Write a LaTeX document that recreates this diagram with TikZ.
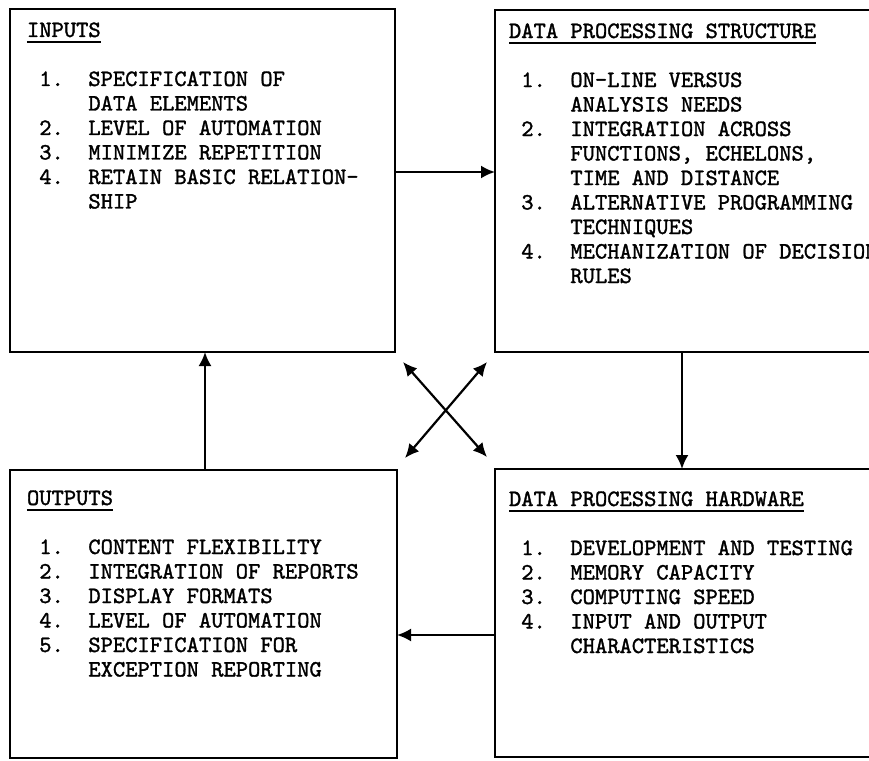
\documentclass[tikz,border=0pt]{standalone}
\usepackage{fontspec}
\usetikzlibrary{arrows.meta,calc}

% typewriter face with a heavier stroke
\newfontfamily\typer{lmmono10-regular.otf}[FakeBold=1.4]

% underlined heading of a box
\newcommand\hdtitle[1]{\leavevmode\setbox0\hbox{#1}\rlap{\rule[-6pt]{\wd0}{1.8pt}}\box0}
% typewritten block of lines, first baseline at the node's base
\newcommand\boxlines[1]{\begin{minipage}[t]{22cm}\fontsize{23.4pt}{24.5pt}\typer #1\end{minipage}}
% one listed line: number column five characters wide, then text
\newcommand\itm[2]{\null\makebox[61.4pt][l]{~#1}#2}

\begin{document}
\begin{tikzpicture}[x=1pt,y=-1pt,
  frame/.style={draw,rectangle,line width=2.4pt,inner sep=0pt,outer sep=0pt},
  flow/.style={line width=2.2pt,-{Latex[length=14pt,width=13pt]}},
  twoway/.style={line width=2.2pt,{Latex[length=14pt,width=13pt]}-{Latex[length=14pt,width=13pt]}},
  txt/.style={anchor=base west,inner sep=0pt,outer sep=0pt}]

\useasboundingbox (0,0) rectangle (869,760);
\fill[white] (0,0) rectangle (869,760);
\clip (0,0) rectangle (869,760);

% the four boxes
\node[frame,minimum width=385pt,minimum height=343pt] (in)  at (202.5,180.5) {};
\node[frame,minimum width=405pt,minimum height=342pt] (dps) at (697.5,181)   {};
\node[frame,minimum width=387pt,minimum height=288pt] (out) at (203.5,614)   {};
\node[frame,minimum width=405pt,minimum height=288pt] (hw)  at (697.5,613)   {};

% box contents
\node[txt] (intext) at (27,37) {\boxlines{%
\hdtitle{INPUTS}\\[24.5pt]
\itm{1.}{SPECIFICATION OF}\\
\itm{}{DATA ELEMENTS}\\
\itm{2.}{LEVEL OF AUTOMATION}\\
\itm{3.}{MINIMIZE REPETITION}\\
\itm{4.}{RETAIN BASIC RELATION-}\\
\itm{}{SHIP}}};

\node[txt] (dpstext) at (509,38) {\boxlines{%
\hdtitle{DATA PROCESSING STRUCTURE}\\[24.5pt]
\itm{1.}{ON-LINE VERSUS}\\
\itm{}{ANALYSIS NEEDS}\\
\itm{2.}{INTEGRATION ACROSS}\\
\itm{}{FUNCTIONS, ECHELONS,}\\
\itm{}{TIME AND DISTANCE}\\
\itm{3.}{ALTERNATIVE PROGRAMMING}\\
\itm{}{TECHNIQUES}\\
\itm{4.}{MECHANIZATION OF DECISION}\\
\itm{}{RULES}}};

\node[txt] (outtext) at (27,505) {\boxlines{%
\hdtitle{OUTPUTS}\\[24.5pt]
\itm{1.}{CONTENT FLEXIBILITY}\\
\itm{2.}{INTEGRATION OF REPORTS}\\
\itm{3.}{DISPLAY FORMATS}\\
\itm{4.}{LEVEL OF AUTOMATION}\\
\itm{5.}{SPECIFICATION FOR}\\
\itm{}{EXCEPTION REPORTING}}};

\node[txt] (hwtext) at (509,506) {\boxlines{%
\hdtitle{DATA PROCESSING HARDWARE}\\[24.5pt]
\itm{1.}{DEVELOPMENT AND TESTING}\\
\itm{2.}{MEMORY CAPACITY}\\
\itm{3.}{COMPUTING SPEED}\\
\itm{4.}{INPUT AND OUTPUT}\\
\itm{}{CHARACTERISTICS}}};

% levels of the straight connectors
\coordinate (rowtop) at (0,172);
\coordinate (rowbot) at (0,635);
\coordinate (colleft) at (205,0);
\coordinate (colright) at (682,0);

% cycle around the four boxes
\draw[flow] (in.east |- rowtop) -- (dps.west |- rowtop);
\draw[flow] (dps.south -| colright) -- (hw.north -| colright);
\draw[flow] (hw.west |- rowbot) -- (out.east |- rowbot);
\draw[flow] (out.north -| colleft) -- (in.south -| colleft);

% diagonal cross between opposite corners
\draw[twoway] ($(in.south east)+(8,10)$) -- ($(hw.north west)+(-8,-12)$);
\draw[twoway] ($(dps.south west)+(-8,10)$) -- ($(out.north east)+(8,-12)$);

\end{tikzpicture}
\end{document}
